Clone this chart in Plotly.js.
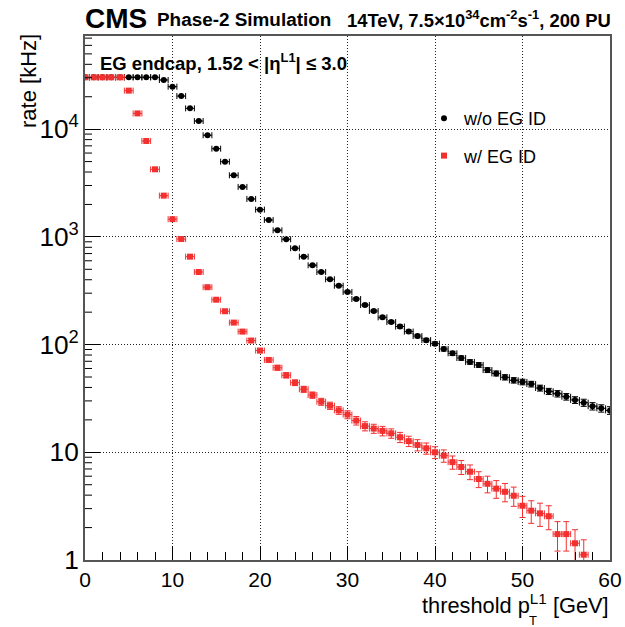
<!DOCTYPE html>
<html>
<head>
<meta charset="utf-8">
<script src="https://cdn.plot.ly/plotly-3.0.1.min.js"></script>
<style>html,body{margin:0;padding:0;background:#fff;}#chart{width:625px;height:627px;}</style>
</head>
<body>
<div id="chart"></div>
<script>
// threshold bins (GeV)
const thrNoID = [0,1,2,3,4,5,6,7,8,9,10,11,12,13,14,15,16,17,18,19,20,21,22,23,24,25,26,27,28,29,30,31,32,33,34,35,36,37,38,39,40,41,42,43,44,45,46,47,48,49,50,51,52,53,54,55,56,57,58,59,60];
const rateNoID = [30300,30300,30300,30300,30300,30300,30300,30300,30300,28600,24800,20300,15600,11900,8780,6590,4990,3730,2910,2250,1790,1435,1151,950,784,655,545,472,404,352,308,265,233,205,179,162,147,132,120,110,102,91,83,75,69,64.7,58,54,49.7,46.6,45,43,39.5,36.8,35,32.8,30.6,28.9,26.8,25.6,24.5];
const errNoID = [70,70,70,70,70,70,70,70,70,68,63,57,50,44,37,32,28,24,22,19,17,15,14,12,11,10,9.3,8.7,8,7.5,7,6.5,6.1,5.7,5.4,5.1,4.8,4.6,4.4,4.2,4.0,3.8,3.6,3.5,3.3,3.2,3.0,2.9,2.8,2.7,2.7,2.6,2.5,2.4,2.4,2.3,2.2,2.2,2.1,2.0,2.0];

const thrID = [0,1,2,3,4,5,6,7,8,9,10,11,12,13,14,15,16,17,18,19,20,21,22,23,24,25,26,27,28,29,30,31,32,33,34,35,36,37,38,39,40,41,42,43,44,45,46,47,48,49,50,51,52,53,54,55,56,57];
const rateID = [30300,30300,30300,30300,30300,22800,14000,7770,4240,2415,1460,955,655,472,341,261,204,160,132,109,88,72,61,51.9,44.3,38.5,34,29.5,27.1,24.5,22.4,19.7,17.5,16.6,15.8,15,13.8,12.7,11.7,10.9,10,9.3,8.1,7.3,6.6,5.65,5.1,4.6,4.3,3.95,3.19,2.87,2.71,2.55,1.74,1.74,1.43,1.12];
const errID = [70,70,70,70,70,60,47,35,26,20,15,12,10,8.7,7.4,6.5,5.7,5.1,4.6,4.2,3.8,3.4,3.1,2.9,2.7,2.5,2.3,2.2,2.1,2.0,1.9,1.8,1.7,1.6,1.6,1.5,1.5,1.4,1.4,1.3,1.26,1.22,1.14,1.08,1.03,0.95,0.9,0.86,0.83,0.8,0.71,0.68,0.66,0.64,0.53,0.53,0.48,0.42];

const xTickVals = [0,10,20,30,40,50,60];
const yDecades = [1,10,100,1000,10000];
const minorMantissas = [2,3,4,5,6,7,8,9];

const FONT = 'Liberation Sans, Arial, Helvetica, sans-serif';
const RED = '#f23030';
const Y_RANGE = [0, 4.865];

const traces = [
  {
    x: thrNoID, y: rateNoID, type: 'scatter', mode: 'markers', name: 'w/o EG ID',
    legendgroup: 'a',
    marker: {symbol: 'circle', size: 6, color: '#000'},
    error_y: {type: 'data', array: errNoID, visible: true, color: '#000', thickness: 1, width: 3},
    error_x: {type: 'constant', value: 0.5, visible: true, color: '#000', thickness: 1, width: 3}
  },
  {
    x: thrID, y: rateID, type: 'scatter', mode: 'markers', name: 'w/ EG ID',
    legendgroup: 'b',
    marker: {symbol: 'square', size: 6, color: RED},
    error_y: {type: 'data', array: errID, visible: true, color: RED, thickness: 1, width: 3},
    error_x: {type: 'constant', value: 0.5, visible: true, color: RED, thickness: 1, width: 3}
  }
];

function px(x){return (x-85)/525;}
function py(y){return (560-y)/524;}

// minor log tick marks on the left axis: short segments placed through the y (log) axis in data values
const MINOR_LEN = 7 / 525;
const minorTickShapes = [];
yDecades.forEach(function(d){
  minorMantissas.forEach(function(m){
    const v = d * m;
    if (Math.log10(v) < Y_RANGE[1]) {
      minorTickShapes.push({type: 'line', xref: 'paper', yref: 'y', x0: 0, x1: MINOR_LEN, y0: v, y1: v,
        line: {color: '#000', width: 1}, layer: 'above'});
    }
  });
});

const layout = {
  width: 625, height: 627,
  margin: {l: 85, r: 15, t: 36, b: 67},
  paper_bgcolor: '#fff', plot_bgcolor: '#fff',
  font: {family: FONT, color: '#000'},
  xaxis: {
    range: [0, 60], tickvals: xTickVals, ticks: 'inside', ticklen: 14, tickwidth: 1, tickcolor: '#000',
    minor: {dtick: 2, ticks: 'inside', ticklen: 8, tickcolor: '#000', showgrid: false},
    showline: true, linecolor: '#555', linewidth: 2, mirror: true,
    showgrid: true, gridcolor: '#222', griddash: '1px,2px', gridwidth: 1,
    zeroline: false, tickfont: {size: 21, family: FONT}
  },
  yaxis: {
    type: 'log', range: Y_RANGE, dtick: 1, exponentformat: 'power',
    ticks: 'inside', ticklen: 15, tickwidth: 1, tickcolor: '#000',
    showline: true, linecolor: '#555', linewidth: 2, mirror: true,
    showgrid: true, gridcolor: '#222', griddash: '1px,2px', gridwidth: 1,
    zeroline: false, tickfont: {size: 21, family: FONT}
  },
  shapes: minorTickShapes,
  showlegend: true,
  legend: {
    x: px(424), y: py(100), xanchor: 'left', yanchor: 'top',
    bgcolor: 'rgba(0,0,0,0)', borderwidth: 0,
    font: {size: 18, family: FONT}, traceorder: 'grouped', tracegroupgap: 11
  },
  annotations: [
    {text: '<b>CMS</b>', xref: 'paper', yref: 'paper', x: px(83), y: py(18), xanchor: 'left', yanchor: 'middle',
     showarrow: false, font: {size: 28, family: FONT}},
    {text: '<b>Phase-2 Simulation</b>', xref: 'paper', yref: 'paper',
     x: px(155), y: py(20), xanchor: 'left', yanchor: 'middle', showarrow: false, font: {size: 18.9, family: FONT}},
    {text: '<b>14TeV, 7.5×10<sup>34</sup>cm<sup>-2</sup>s<sup>-1</sup>, 200 PU</b>', xref: 'paper', yref: 'paper',
     x: px(613), y: py(19), xanchor: 'right', yanchor: 'middle', showarrow: false, font: {size: 18.4, family: FONT}},
    {text: '<b>EG endcap, 1.52 < |η<sup>L1</sup>| ≤ 3.0</b>', xref: 'paper', yref: 'paper', x: px(98), y: py(62),
     xanchor: 'left', yanchor: 'middle', showarrow: false, font: {size: 18.5, family: FONT}},
    {text: 'rate [kHz]', xref: 'paper', yref: 'paper', x: px(28), y: py(81), xanchor: 'center', yanchor: 'middle',
     textangle: -90, showarrow: false, font: {size: 22, family: FONT}},
    {text: 'threshold p<sup>L1</sup> [GeV]', xref: 'paper', yref: 'paper', x: px(611), y: py(604),
     xanchor: 'right', yanchor: 'middle', showarrow: false, font: {size: 21.8, family: FONT}},
    {text: 'T', xref: 'paper', yref: 'paper', x: px(533), y: py(620),
     xanchor: 'center', yanchor: 'middle', showarrow: false, font: {size: 13, family: FONT}}
  ]
};

Plotly.newPlot('chart', traces, layout, {displayModeBar: false, staticPlot: true});
</script>
</body>
</html>
